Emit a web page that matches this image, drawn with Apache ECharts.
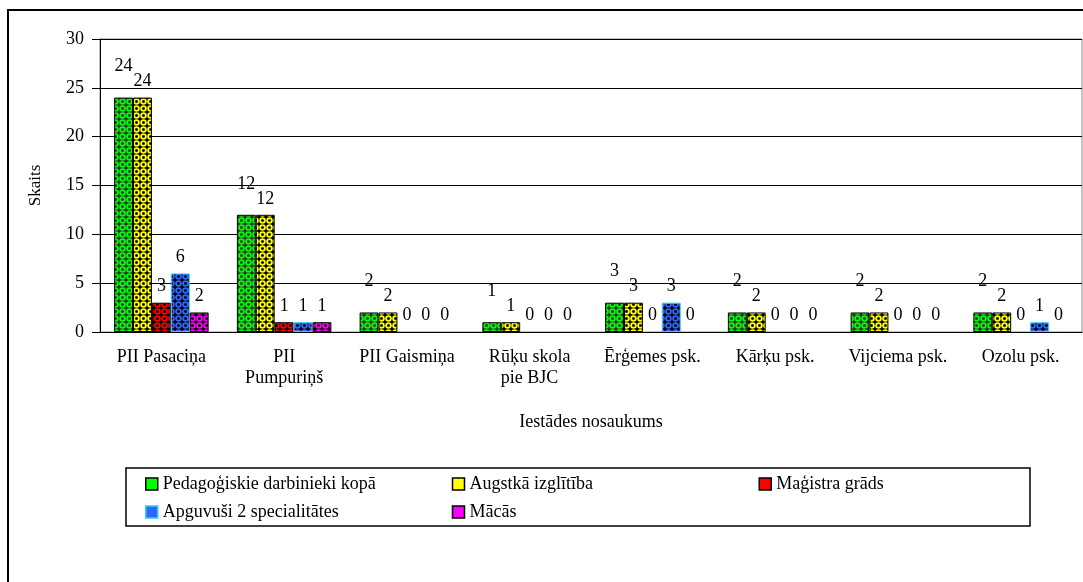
<!DOCTYPE html>
<html>
<head>
<meta charset="utf-8">
<script src="https://cdn.jsdelivr.net/npm/echarts@6/dist/echarts.min.js"></script>
<style>
  html, body { margin: 0; padding: 0; background: #ffffff; }
  #chart { width: 1083px; height: 582px; }
</style>
</head>
<body>
<div id="chart"></div>
<script>
// data
const categories = ['PII Pasaciņa', 'PII\nPumpuriņš', 'PII Gaismiņa', 'Rūķu skola\npie BJC', 'Ērģemes psk.', 'Kārķu psk.', 'Vijciema psk.', 'Ozolu psk.']
const seriesNames = ['Pedagoģiskie darbinieki kopā', 'Augstkā izglītība', 'Maģistra grāds', 'Apguvuši 2 specialitātes', 'Mācās']
const kopa = [24, 12, 2, 1, 3, 2, 2, 2]
const augstaka = [24, 12, 2, 1, 3, 2, 2, 2]
const magistri = [3, 1, 0, 0, 0, 0, 0, 0]
const divasSpec = [6, 1, 0, 0, 3, 0, 0, 1]
const macas = [2, 1, 0, 0, 0, 0, 0, 0]

const FONT = 'Liberation Serif'

// small repeating tile like the Excel pattern fill
function pattern (base, dark) {
  const c = document.createElement('canvas')
  c.width = 7
  c.height = 7
  const g = c.getContext('2d')
  g.fillStyle = dark
  g.fillRect(0, 0, 7, 7)
  g.strokeStyle = base
  g.lineWidth = 2
  g.beginPath()
  g.arc(3.5, 3.5, 2.3, 0, Math.PI * 2)
  g.stroke()
  g.fillStyle = dark
  g.fillRect(2.5, 2.5, 2, 2)
  return { image: c, repeat: 'repeat' }
}

const styles = [
  { base: '#00ff00', dark: '#333333', border: '#000000', offset: -15 },
  { base: '#ffff00', dark: '#000000', border: '#000000', offset: 0 },
  { base: '#ff0000', dark: '#000000', border: '#000000', offset: 0 },
  { base: '#3366ff', dark: '#000000', border: '#33ccff', offset: 0 },
  { base: '#ff00ff', dark: '#000000', border: '#000000', offset: 0 }
]
const values = [kopa, augstaka, magistri, divasSpec, macas]

const series = seriesNames.map((name, i) => ({
  name: name,
  type: 'bar',
  // zero bars have no visible outline in the original
  data: values[i].map(v => v === 0 ? { value: v, itemStyle: { borderColor: 'transparent' } } : v),
  barGap: 0,
  barCategoryGap: '23%',
  itemStyle: {
    color: pattern(styles[i].base, styles[i].dark),
    borderColor: styles[i].border,
    borderWidth: 1
  },
  emphasis: { disabled: true },
  label: {
    show: true,
    position: 'top',
    distance: 7,
    offset: [0, styles[i].offset],
    color: '#000',
    fontFamily: FONT,
    fontSize: 18
  }
}))

const option = {
  animation: false,
  textStyle: { fontFamily: FONT },
  grid: {
    left: 100,
    right: 1,
    top: 39,
    bottom: 250,
    show: true,
    borderColor: '#888888',
    borderWidth: 1
  },
  legend: {
    left: 145,
    top: 474,
    width: 930,
    padding: 0,
    itemGap: 8,
    itemWidth: 12,
    itemHeight: 12,
    icon: 'rect',
    textStyle: { fontFamily: FONT, fontSize: 18, color: '#000', width: 281, lineHeight: 20 },
    data: seriesNames.map((n, i) => ({
      name: n,
      itemStyle: { color: styles[i].base, borderColor: styles[i].border, borderWidth: 1.5 }
    }))
  },
  xAxis: {
    type: 'category',
    data: categories,
    name: 'Iestādes nosaukums',
    nameLocation: 'middle',
    nameGap: 81,
    nameTextStyle: { fontFamily: FONT, fontSize: 18, color: '#000' },
    axisLine: { lineStyle: { color: '#000', width: 1 } },
    axisTick: { length: 5, lineStyle: { color: '#000' } },
    axisLabel: { interval: 0, margin: 15, fontFamily: FONT, fontSize: 18, color: '#000', lineHeight: 21 }
  },
  yAxis: {
    type: 'value',
    min: 0,
    max: 30,
    interval: 5,
    name: 'Skaits',
    nameLocation: 'middle',
    nameGap: 56,
    nameTextStyle: { fontFamily: FONT, fontSize: 17, color: '#000' },
    axisLine: { show: true, lineStyle: { color: '#000', width: 1 } },
    axisTick: { show: true, length: 8, lineStyle: { color: '#000' } },
    axisLabel: { margin: 16, fontFamily: FONT, fontSize: 18, color: '#000' },
    splitLine: { lineStyle: { color: '#000', width: 1 } }
  },
  graphic: [
    {
      type: 'rect',
      shape: { x: 8, y: 10, width: 1200, height: 700 },
      style: { fill: 'none', stroke: '#000', lineWidth: 2 },
      silent: true
    },
    {
      type: 'rect',
      shape: { x: 126, y: 468, width: 904, height: 58 },
      style: { fill: 'none', stroke: '#000', lineWidth: 1.5 },
      silent: true
    }
  ],
  series: series
}

const myChart = echarts.init(document.getElementById('chart'))
myChart.setOption(option)
</script>
</body>
</html>
